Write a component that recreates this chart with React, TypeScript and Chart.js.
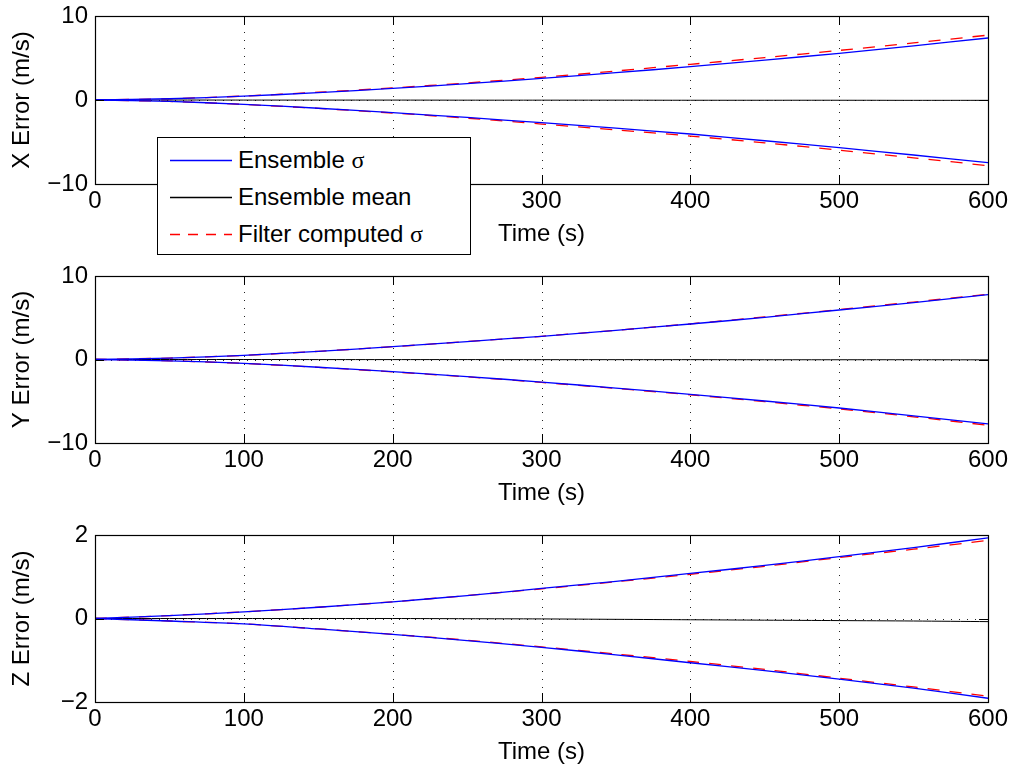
import React, { useEffect, useRef } from "react";
import { Chart, registerables } from "chart.js";

Chart.register(...registerables);

// ---------- data ----------
const timeS = [0, 50, 100, 150, 200, 250, 300, 350, 400, 450, 500, 550, 600];
const timeTicks = [0, 100, 200, 300, 400, 500, 600];
const timeGrid = [100, 200, 300, 400, 500];

const xEnsUpper = [0, 0.15, 0.45, 0.88, 1.39, 1.95, 2.58, 3.25, 3.97, 4.75, 5.56, 6.45, 7.38];
const xEnsLower = [0, -0.17, -0.52, -0.98, -1.51, -2.08, -2.7, -3.36, -4.05, -4.85, -5.68, -6.55, -7.46];
const xMean = [0, 0, -0.01, -0.01, -0.01, -0.02, -0.02, -0.02, -0.03, -0.03, -0.03, -0.04, -0.04];
const xFiltUpper = [0, 0.15, 0.47, 0.92, 1.44, 2.03, 2.7, 3.45, 4.25, 5.05, 5.9, 6.8, 7.72];
const xFiltLower = [0, -0.17, -0.53, -1.0, -1.55, -2.16, -2.86, -3.55, -4.29, -5.1, -5.97, -6.88, -7.82];

const yEnsUpper = [0, 0.17, 0.5, 0.98, 1.53, 2.15, 2.78, 3.5, 4.25, 5.05, 5.93, 6.82, 7.76];
const yEnsLower = [0, -0.16, -0.46, -0.93, -1.46, -2.05, -2.7, -3.42, -4.17, -4.97, -5.81, -6.74, -7.72];
const yMean = [0, 0, 0, -0.01, -0.01, -0.01, -0.02, -0.02, -0.02, -0.03, -0.03, -0.03, -0.04];
const yFiltUpper = [0, 0.17, 0.5, 0.98, 1.53, 2.15, 2.78, 3.5, 4.27, 5.1, 5.98, 6.88, 7.82];
const yFiltLower = [0, -0.16, -0.47, -0.94, -1.48, -2.08, -2.74, -3.46, -4.22, -5.05, -5.92, -6.86, -7.88];

const zEnsUpper = [0, 0.07, 0.16, 0.27, 0.4, 0.55, 0.72, 0.89, 1.08, 1.27, 1.48, 1.7, 1.93];
const zEnsLower = [0, -0.06, -0.13, -0.25, -0.38, -0.53, -0.69, -0.87, -1.06, -1.25, -1.45, -1.67, -1.91];
const zMean = [0, 0, 0, 0, 0, -0.005, -0.01, -0.02, -0.03, -0.04, -0.05, -0.06, -0.075];
const zFiltUpper = [0, 0.07, 0.16, 0.27, 0.4, 0.55, 0.71, 0.88, 1.06, 1.25, 1.46, 1.66, 1.87];
const zFiltLower = [0, -0.06, -0.13, -0.25, -0.38, -0.52, -0.68, -0.85, -1.03, -1.22, -1.43, -1.64, -1.86];

const xYTicks = [-10, 0, 10];
const yYTicks = [-10, 0, 10];
const zYTicks = [-2, 0, 2];

const legendLabels = ["Ensemble ", "Ensemble mean", "Filter computed "];

// ---------- styling ----------
const FONT_FAMILY = "'Liberation Sans', Arial, Helvetica, sans-serif";
const BLUE = "#0000ff";
const RED = "#ff0000";
const BLACK = "#000000";

const toPoints = (ys: number[]) => timeS.map((t, i) => ({ x: t, y: ys[i] }));

const matlabAxes = {
  id: "matlabAxes",
  beforeDatasetsDraw(chart: any, _args: any, opts: any) {
    const { ctx, chartArea, scales } = chart;
    const { left, right, top, bottom } = chartArea;
    ctx.save();
    ctx.strokeStyle = "#222";
    ctx.lineWidth = 1;
    ctx.setLineDash([1, 7]);
    for (const v of timeGrid) {
      const px = Math.round(scales.x.getPixelForValue(v)) + 0.5;
      ctx.beginPath();
      ctx.moveTo(px, top);
      ctx.lineTo(px, bottom);
      ctx.stroke();
    }
    const py = Math.round(scales.y.getPixelForValue(0)) + 0.5;
    ctx.beginPath();
    ctx.moveTo(left, py);
    ctx.lineTo(right, py);
    ctx.stroke();
    ctx.restore();
  },
  afterDatasetsDraw(chart: any, _args: any, opts: any) {
    const { ctx, chartArea, scales } = chart;
    const { left, right, top, bottom } = chartArea;
    const tl = 9;
    ctx.save();
    ctx.strokeStyle = BLACK;
    ctx.lineWidth = 1;
    ctx.setLineDash([]);
    ctx.beginPath();
    for (const v of timeTicks) {
      const px = Math.round(scales.x.getPixelForValue(v)) + 0.5;
      ctx.moveTo(px, bottom);
      ctx.lineTo(px, bottom - tl);
      ctx.moveTo(px, top);
      ctx.lineTo(px, top + tl);
    }
    for (const v of opts.yTicks || []) {
      const py = Math.round(scales.y.getPixelForValue(v)) + 0.5;
      ctx.moveTo(left, py);
      ctx.lineTo(left + tl, py);
      ctx.moveTo(right, py);
      ctx.lineTo(right - tl, py);
    }
    ctx.stroke();
    ctx.lineWidth = 1.2;
    ctx.strokeRect(Math.round(left) + 0.5, Math.round(top) + 0.5, Math.round(right - left), Math.round(bottom - top));
    ctx.restore();
  },
};

type PanelProps = {
  top: number;
  height: number;
  plotHeight: number;
  yTitle: string;
  yMin: number;
  yMax: number;
  yStep: number;
  yTicks: number[];
  ensUpper: number[];
  ensLower: number[];
  mean: number[];
  filtUpper: number[];
  filtLower: number[];
};

function Panel(p: PanelProps) {
  const ref = useRef<HTMLCanvasElement | null>(null);
  useEffect(() => {
    if (!ref.current) return;
    const font = { family: FONT_FAMILY, size: 24 };
    const xAxisH = 70;
    const padTop = 16;
    const padBottom = p.height - padTop - p.plotHeight - xAxisH;
    const line = (data: number[], color: string, dash: number[], width: number) => ({
      data: toPoints(data),
      borderColor: color,
      backgroundColor: color,
      borderWidth: width,
      borderDash: dash,
      pointRadius: 0,
      fill: false,
      tension: 0.3,
    });
    const chart = new Chart(ref.current, {
      type: "line",
      data: {
        datasets: [
          line(p.ensUpper, BLUE, [], 1.3),
          line(p.ensLower, BLUE, [], 1.3),
          line(p.mean, BLACK, [], 1),
          line(p.filtUpper, RED, [12, 10], 1.3),
          line(p.filtLower, RED, [12, 10], 1.3),
        ],
      },
      plugins: [matlabAxes],
      options: {
        animation: false,
        responsive: false,
        devicePixelRatio: 1,
        layout: { padding: { left: 0, right: 29, top: padTop, bottom: padBottom } },
        plugins: {
          legend: { display: false },
          tooltip: { enabled: false },
          matlabAxes: { yTicks: p.yTicks },
        } as any,
        scales: {
          x: {
            type: "linear",
            min: 0,
            max: 600,
            ticks: { stepSize: 100, font, color: BLACK, padding: 3, maxRotation: 0, autoSkip: false },
            grid: { display: false, drawTicks: false, tickLength: 0 },
            border: { display: false },
            title: {
              display: true,
              text: "Time (s)",
              font,
              color: BLACK,
              padding: { top: 0, bottom: 5.6 },
            },
            afterFit: (s: any) => {
              s.height = xAxisH;
              s.paddingLeft = 0;
              s.paddingRight = 0;
            },
          },
          y: {
            type: "linear",
            min: p.yMin,
            max: p.yMax,
            ticks: {
              stepSize: p.yStep,
              font,
              color: BLACK,
              padding: 7,
              callback: (v: any) => String(v).replace("-", "\u2212"),
            },
            grid: { display: false, drawTicks: false, tickLength: 0 },
            border: { display: false },
            title: {
              display: true,
              text: p.yTitle,
              font,
              color: BLACK,
              padding: { top: 7.6, bottom: 0 },
            },
            afterFit: (s: any) => {
              s.width = 95;
              s.paddingTop = 0;
              s.paddingBottom = 0;
            },
          },
        },
      } as any,
    });
    return () => chart.destroy();
  }, []);
  return (
    <canvas
      ref={ref}
      width={1017}
      height={p.height}
      style={{ position: "absolute", left: 0, top: p.top, width: 1017, height: p.height }}
    />
  );
}

function Legend() {
  const rows = [
    { y: 23, color: BLUE, dash: "", label: legendLabels[0], sigma: true },
    { y: 60, color: BLACK, dash: "", label: legendLabels[1], sigma: false },
    { y: 97, color: RED, dash: "10 8", label: legendLabels[2], sigma: true },
  ];
  return (
    <div
      style={{
        position: "absolute",
        left: 157,
        top: 137,
        width: 314,
        height: 118,
        border: "1.2px solid #000",
        background: "#fff",
        boxSizing: "border-box",
        fontFamily: FONT_FAMILY,
        fontSize: 24,
        color: "#000",
      }}
    >
      <svg width={314} height={118} style={{ position: "absolute", left: 0, top: 0 }}>
        {rows.map((r, i) => (
          <line
            key={i}
            x1={12}
            x2={74}
            y1={r.y - 0.5}
            y2={r.y - 0.5}
            stroke={r.color}
            strokeWidth={1.3}
            strokeDasharray={r.dash || undefined}
          />
        ))}
      </svg>
      {rows.map((r, i) => (
        <div
          key={i}
          style={{ position: "absolute", left: 80, top: r.y - 15, lineHeight: "28px", whiteSpace: "nowrap" }}
        >
          {r.label}
          {r.sigma ? <span style={{ fontFamily: "'Liberation Serif', 'DejaVu Serif', serif" }}>σ</span> : null}
        </div>
      ))}
    </div>
  );
}

export default function App() {
  return (
    <div
      style={{
        position: "absolute",
        left: 0,
        top: 0,
        width: 1017,
        height: 770,
        overflow: "hidden",
        background: "#fff",
      }}
    >
      <Panel
        top={0}
        height={260}
        plotHeight={168}
        yTitle="X Error (m/s)"
        yMin={-10}
        yMax={10}
        yStep={10}
        yTicks={xYTicks}
        ensUpper={xEnsUpper}
        ensLower={xEnsLower}
        mean={xMean}
        filtUpper={xFiltUpper}
        filtLower={xFiltLower}
      />
      <Panel
        top={260}
        height={260}
        plotHeight={167}
        yTitle="Y Error (m/s)"
        yMin={-10}
        yMax={10}
        yStep={10}
        yTicks={yYTicks}
        ensUpper={yEnsUpper}
        ensLower={yEnsLower}
        mean={yMean}
        filtUpper={yFiltUpper}
        filtLower={yFiltLower}
      />
      <Panel
        top={519}
        height={260}
        plotHeight={167}
        yTitle="Z Error (m/s)"
        yMin={-2}
        yMax={2}
        yStep={2}
        yTicks={zYTicks}
        ensUpper={zEnsUpper}
        ensLower={zEnsLower}
        mean={zMean}
        filtUpper={zFiltUpper}
        filtLower={zFiltLower}
      />
      <Legend />
    </div>
  );
}
